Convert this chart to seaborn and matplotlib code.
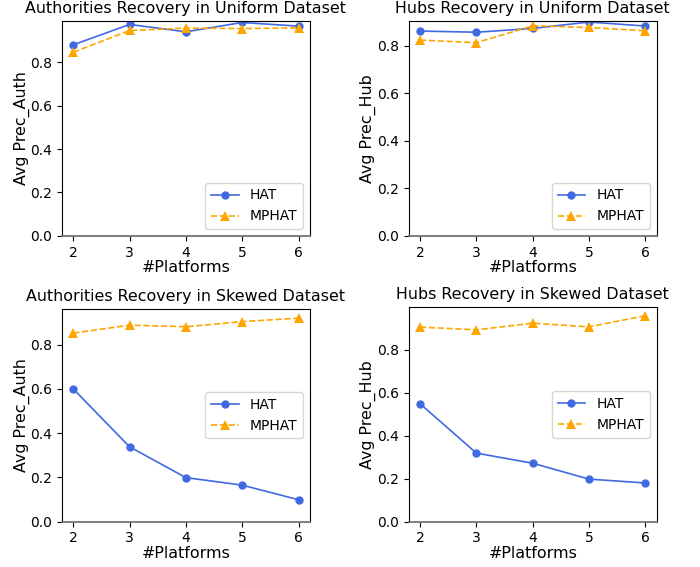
import numpy as np
import pandas as pd
import matplotlib
matplotlib.use("Agg")
import matplotlib.pyplot as plt
import seaborn as sns

platforms = [2, 3, 4, 5, 6]

auth_uniform_hat = [0.880, 0.974, 0.940, 0.983, 0.966]
auth_uniform_mphat = [0.846, 0.946, 0.957, 0.955, 0.958]
hub_uniform_hat = [0.862, 0.857, 0.873, 0.900, 0.883]
hub_uniform_mphat = [0.824, 0.813, 0.884, 0.877, 0.863]
auth_skewed_hat = [0.600, 0.338, 0.199, 0.165, 0.099]
auth_skewed_mphat = [0.852, 0.888, 0.881, 0.904, 0.920]
hub_skewed_hat = [0.549, 0.319, 0.272, 0.198, 0.180]
hub_skewed_mphat = [0.906, 0.893, 0.924, 0.907, 0.959]

titles = ["Authorities Recovery in Uniform Dataset",
          "Hubs Recovery in Uniform Dataset",
          "Authorities Recovery in Skewed Dataset",
          "Hubs Recovery in Skewed Dataset"]
ylabels = ["Avg Prec_Auth", "Avg Prec_Hub", "Avg Prec_Auth", "Avg Prec_Hub"]
xlabel = "#Platforms"
series_names = ["HAT", "MPHAT"]

panels = [(auth_uniform_hat, auth_uniform_mphat),
          (hub_uniform_hat, hub_uniform_mphat),
          (auth_skewed_hat, auth_skewed_mphat),
          (hub_skewed_hat, hub_skewed_mphat)]

fig = plt.figure(figsize=(7.0, 5.67), dpi=100)
positions = [
    [0.0886, 0.584, 0.354, 0.379],
    [0.584, 0.584, 0.354, 0.379],
    [0.0886, 0.080, 0.354, 0.375],
    [0.584, 0.080, 0.354, 0.378],
]
legend_locs = ["lower right", "lower right", "center right", "center right"]

for i, (hat, mphat) in enumerate(panels):
    ax = fig.add_axes(positions[i])
    sns.lineplot(x=platforms, y=hat, ax=ax, color="royalblue", marker="o",
                 markersize=6, markeredgewidth=0, linewidth=1.2, label=series_names[0])
    sns.lineplot(x=platforms, y=mphat, ax=ax, color="orange", marker="^",
                 markersize=6.5, markeredgewidth=0, linewidth=1.2, linestyle="--",
                 label=series_names[1])
    ax.set_ylim(bottom=0)
    ax.set_xticks(platforms)
    ax.set_title(titles[i], fontsize=11.4)
    ax.set_xlabel(xlabel, fontsize=11.4, labelpad=0.5)
    ax.set_ylabel(ylabels[i], fontsize=11.4, labelpad=0.5)
    ax.tick_params(labelsize=10)
    ax.spines["bottom"].set_color("0.45")
    ax.spines["bottom"].set_linewidth(1.3)
    ax.legend(loc=legend_locs[i], fontsize=10)

fig.savefig("out.png", dpi=100)
